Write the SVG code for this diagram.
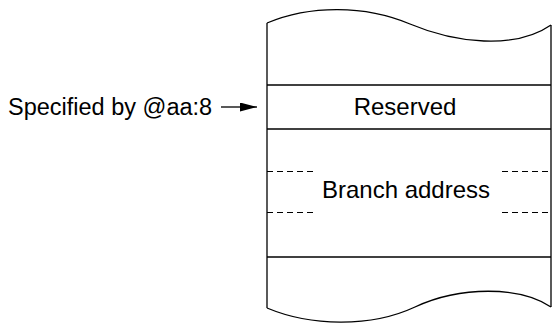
<svg xmlns="http://www.w3.org/2000/svg" width="555" height="326" viewBox="0 0 555 326">
<defs>
<style>
.ln{stroke:#000;stroke-width:1.3;fill:none}
.dash{stroke:#000;stroke-width:1;stroke-dasharray:6,4;fill:none}
.t{font-family:"Liberation Sans",Arial,sans-serif;font-size:24px;fill:#000}
</style>
<marker id="ah" markerWidth="17" markerHeight="9" refX="17" refY="4.5" orient="auto" markerUnits="userSpaceOnUse">
<polygon points="0,0 17,4.5 0,9" fill="#000"/>
</marker>
</defs>
<g id="memory">
<path class="ln" d="M267,23 C310,5 365,5 410,24 C455,43 515,50 551,25"/>
<path class="ln" d="M267,308 C310,326 370,328 415,307 C460,286 520,286 551,307"/>
<line class="ln" x1="267" y1="23" x2="267" y2="308"/>
<line class="ln" x1="551" y1="25" x2="551" y2="307"/>
</g>
<g id="reserved">
<line class="ln" x1="267" y1="85" x2="551" y2="85"/>
<line class="ln" x1="267" y1="129" x2="551" y2="129"/>
<text class="t" x="405" y="115" text-anchor="middle">Reserved</text>
</g>
<g id="branch">
<line class="dash" x1="267" y1="171.5" x2="316" y2="171.5"/>
<line class="dash" x1="502" y1="171.5" x2="551" y2="171.5"/>
<line class="dash" x1="267" y1="212.5" x2="316" y2="212.5"/>
<line class="dash" x1="502" y1="212.5" x2="551" y2="212.5"/>
<text class="t" x="406" y="198" text-anchor="middle">Branch address</text>
<line class="ln" x1="267" y1="257" x2="551" y2="257"/>
</g>
<g id="label">
<text class="t" x="8" y="115" style="font-size:23.5px">Specified by @aa:8</text>
</g>
<g id="connectors">
<line x1="221" y1="107" x2="257" y2="107" stroke="#222" stroke-width="1.3" marker-end="url(#ah)"/>
</g>
</svg>
